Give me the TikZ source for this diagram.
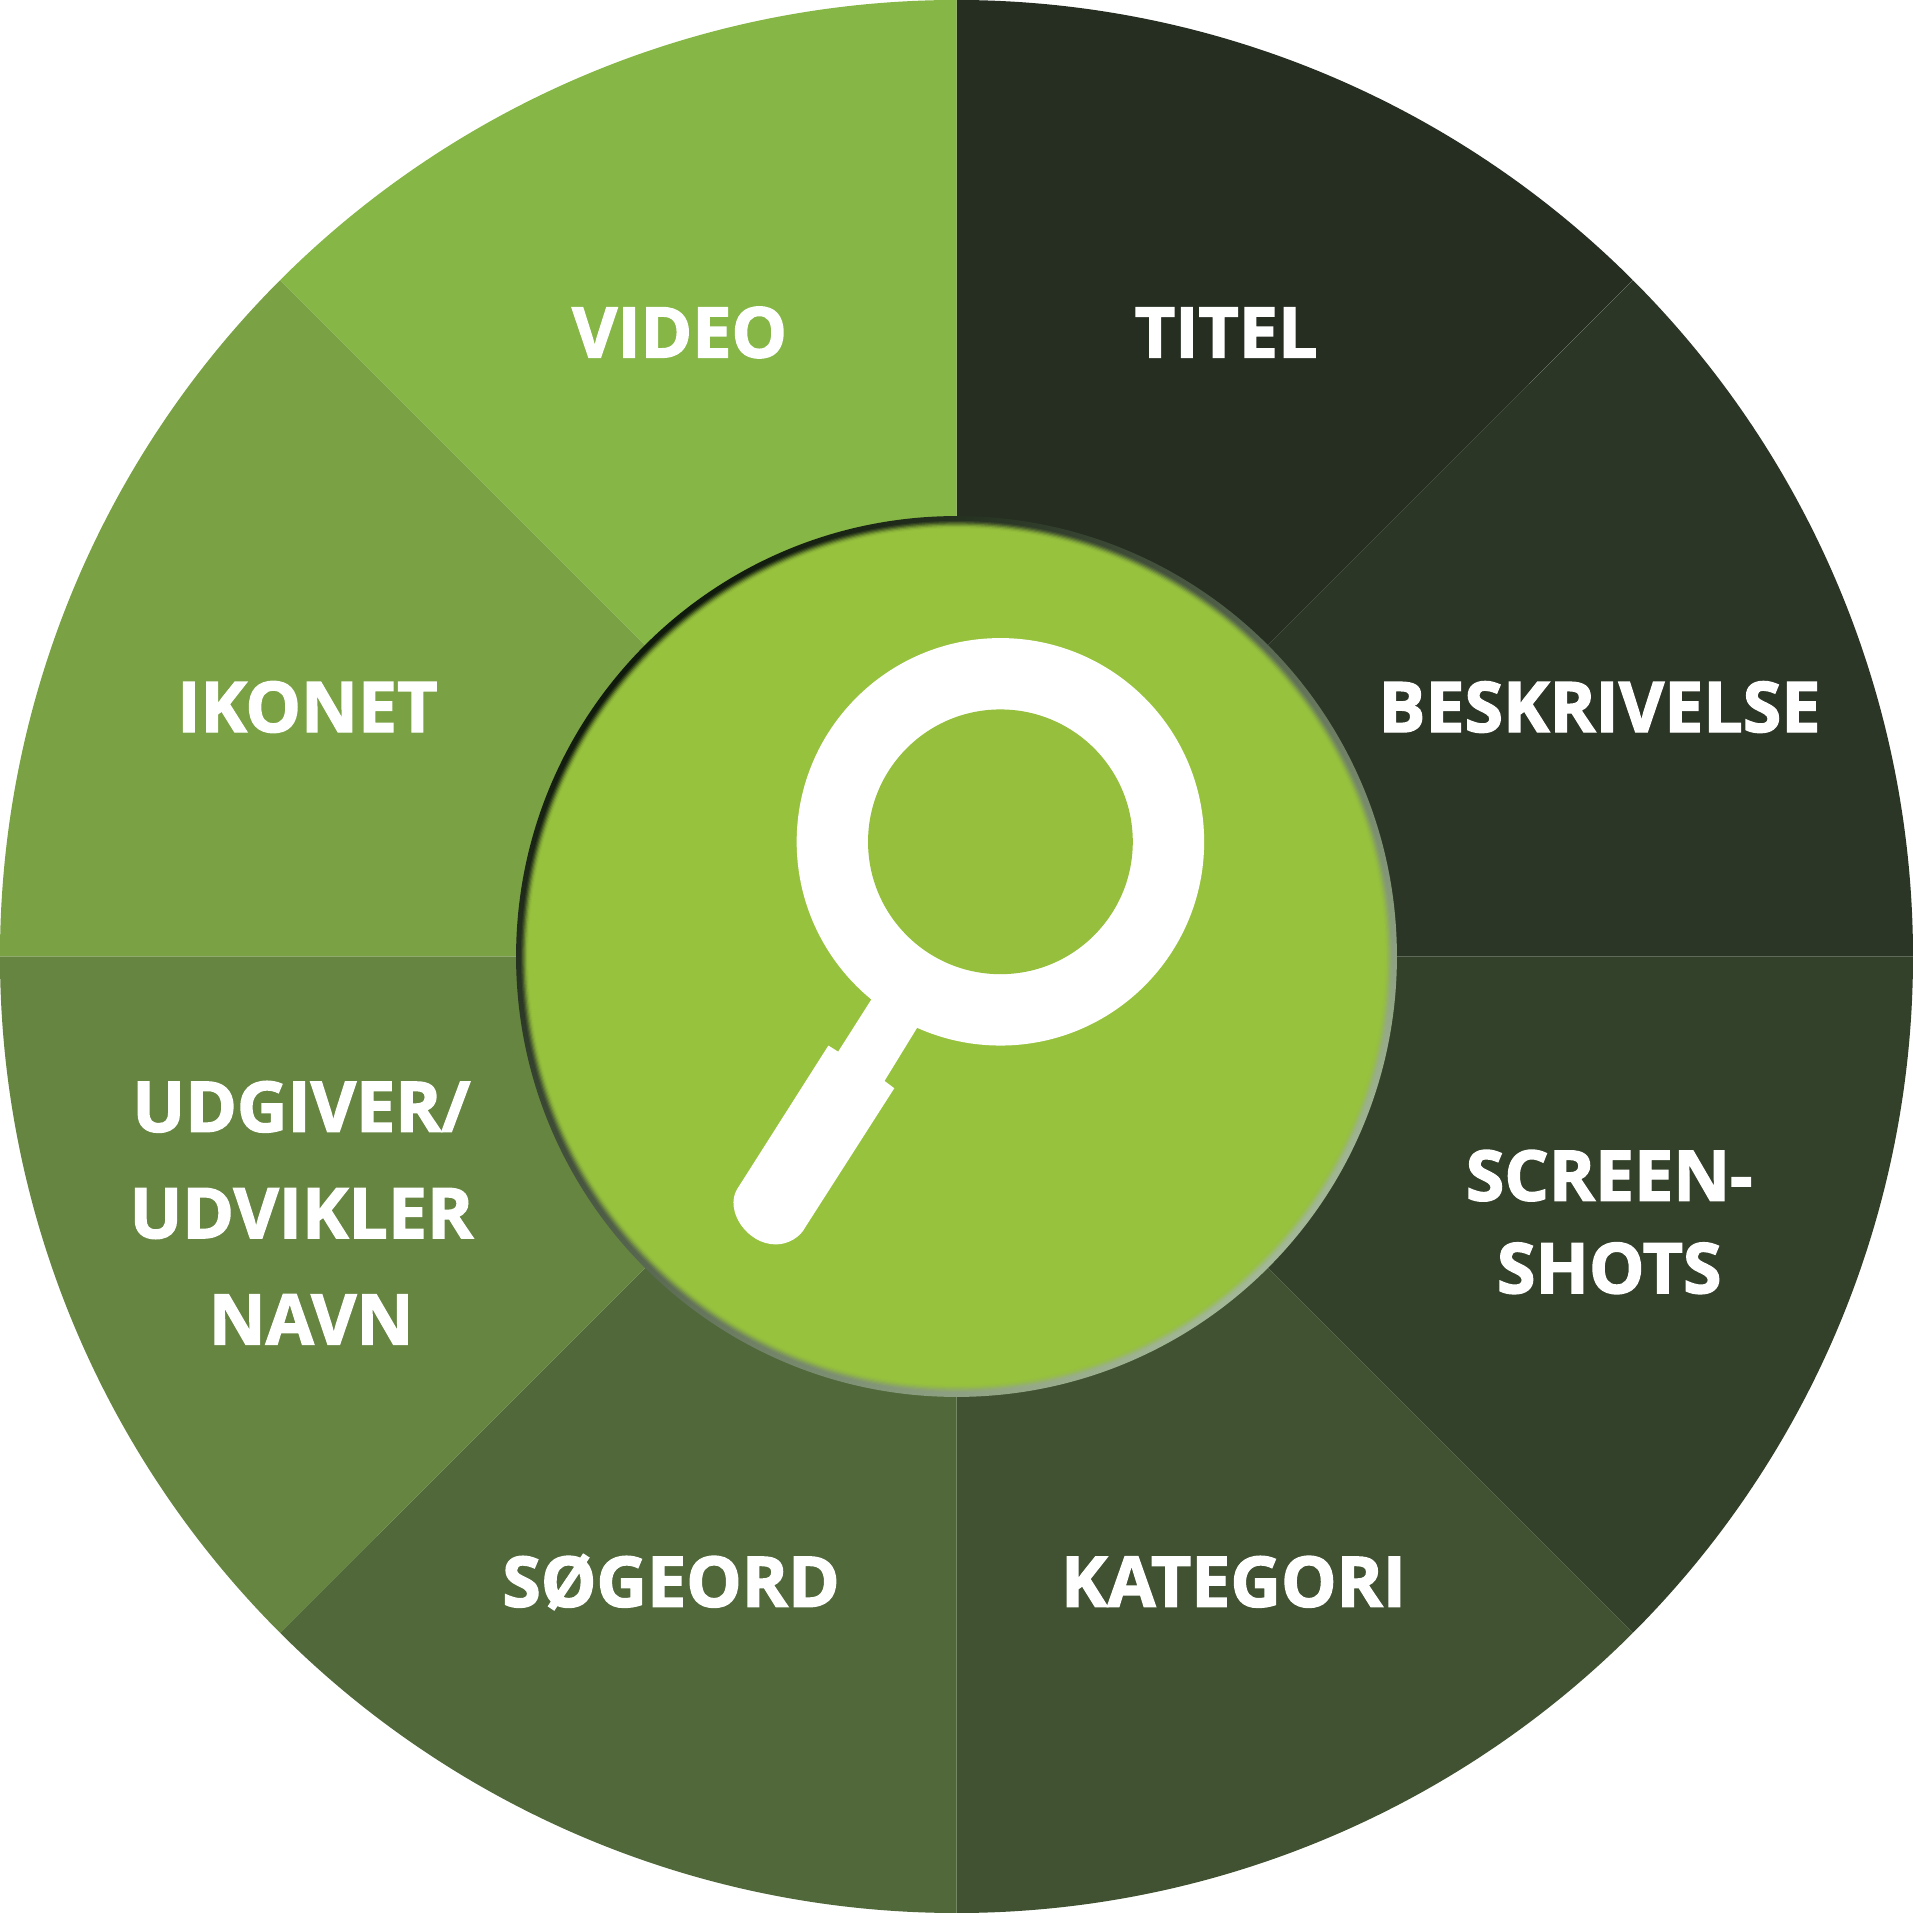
\documentclass[tikz,border=0pt]{standalone}
\usepackage{fontspec}
\setmainfont[BoldFeatures={FakeBold=2}]{Open Sans}
\usepackage{tikz}
\definecolor{segtitel}{HTML}{262E22}
\definecolor{segbeskriv}{HTML}{2C3626}
\definecolor{segscreen}{HTML}{33412A}
\definecolor{segkategori}{HTML}{415232}
\definecolor{segsoegeord}{HTML}{50683A}
\definecolor{segudgiver}{HTML}{668541}
\definecolor{segikonet}{HTML}{7AA244}
\definecolor{segvideo}{HTML}{85B646}
\definecolor{hubgreen}{HTML}{97C23D}
\definecolor{lensgreen}{HTML}{95BF3D}
\definecolor{rimdark}{HTML}{101A0C}
\definecolor{rimmid}{HTML}{6B6C70}
\definecolor{rimlight}{HTML}{A3B896}
\tikzset{
    seglabel/.style = {text=white, align=center, inner sep=0pt,
        font=\fontsize{16.3}{21.6}\selectfont\bfseries,
        text height=.42cm, text depth=0pt}
}
\begin{document}
\begin{tikzpicture}
    \useasboundingbox (-7.84,-7.84) rectangle (7.84,7.84);
    \fill[white] (-7.84,-7.84) rectangle (7.84,7.84);
    % wheel
    \foreach \a/\c in {45/segtitel,0/segbeskriv,-45/segscreen,-90/segkategori,
        -135/segsoegeord,-180/segudgiver,135/segikonet,90/segvideo}
        \fill[\c] (0,0) -- (\a:7.84) arc[start angle=\a, delta angle=45, radius=7.84] -- cycle;
    % hub with soft rim
    \shade[top color=rimdark, middle color=rimmid, bottom color=rimlight, shading angle=45]
        (0,0) circle (3.61);
    \foreach \r/\o in {3.57/.12,3.56/.2,3.55/.3,3.54/.4,3.53/.55,3.52/.7}
        \fill[hubgreen, opacity=\o] (0,0) circle (\r);
    \fill[hubgreen] (0,0) circle (3.51);
    % magnifying glass
    \fill[white] (.36,.94) circle (1.67);
    \fill[white] (-.69,-.34) -- (-.97,-.78) -- (-1.05,-.73) -- (-1.80,-1.91)
        .. controls (-1.90,-2.08) and (-1.72,-2.36) .. (-1.48,-2.36)
        .. controls (-1.38,-2.36) and (-1.28,-2.30) .. (-1.24,-2.22)
        -- (-.51,-1.08) -- (-.59,-1.02) -- (-.32,-.58) -- cycle;
    \fill[lensgreen] (.36,.94) circle (1.085);
    % labels
    \node[seglabel] (video) at (-2.27,5.12) {VIDEO};
    \node[seglabel] (titel) at (2.21,5.12) {TITEL};
    \node[seglabel] (ikonet) at (-5.32,2.05) {IKONET};
    \node[seglabel] (beskrivelse) at (5.27,2.05) {BESKRIVELSE};
    \node[seglabel] (screenshots) at (5.35,-2.55) {SCREEN-\\SHOTS};
    \node[seglabel, font=\fontsize{16.3}{24.8}\selectfont\bfseries] (udgiver) at (-5.37,-2.97) {UDGIVER/\\UDVIKLER\\\hspace*{.16cm}NAVN};
    \node[seglabel] (soegeord) at (-2.34,-5.12) {SØGEORD};
    \node[seglabel] (kategori) at (2.27,-5.12) {KATEGORI};
\end{tikzpicture}
\end{document}
